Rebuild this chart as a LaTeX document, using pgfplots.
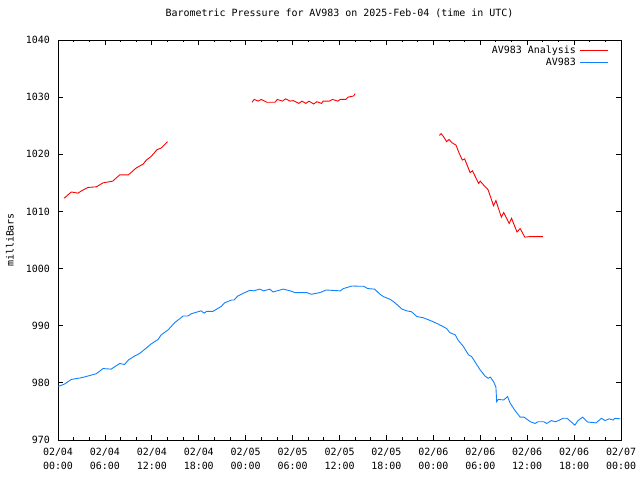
\documentclass[border=0pt]{standalone}
\usepackage{pgfplots}
\pgfplotsset{compat=1.18}
\usepackage{fontspec}
\setmainfont{DejaVu Sans Mono}
\definecolor{gpred}{RGB}{255,0,0}
\definecolor{gpblue}{RGB}{16,128,255}
\begin{document}
\begin{tikzpicture}[x=1bp,y=1bp]
\path[use as bounding box] (0,0) rectangle (640,480);
\begin{axis}[
  at={(58bp,40bp)}, anchor=south west,
  scale only axis, width=563bp, height=400bp,
  xmin=0, xmax=72, ymin=970, ymax=1040,
  font=\fontsize{10}{14}\selectfont,
  /pgf/number format/assume math mode=true,
  xtick={0,6,...,72},
  xticklabels={{02/04\\00:00},{02/04\\06:00},{02/04\\12:00},{02/04\\18:00},{02/05\\00:00},{02/05\\06:00},{02/05\\12:00},{02/05\\18:00},{02/06\\00:00},{02/06\\06:00},{02/06\\12:00},{02/06\\18:00},{02/07\\00:00}},
  minor x tick num=2,
  ytick={970,980,...,1040},
  yticklabel style={/pgf/number format/1000 sep={}, anchor=east, inner sep=0pt, xshift=-8bp},
  xticklabel style={align=center, anchor=north, inner sep=0pt, yshift=-7.5bp},
  major tick length=5bp, minor tick length=2.5bp,
  tick style={black, line width=0.8bp},
  axis line style={black, line width=0.8bp},
  title={Barometric Pressure for AV983 on 2025-Feb-04 (time in UTC)},
  title style={at={(axis description cs:0.5,1)}, anchor=center, yshift=21bp, inner sep=0pt},
  ylabel={milliBars},
  ylabel style={at={(axis description cs:-0.0853,0.5)}, anchor=center, inner sep=0pt},
  unbounded coords=jump,
  legend style={at={(axis description cs:1,1)}, anchor=north east, xshift=-12bp, yshift=-4bp, draw=none, fill=none, inner sep=0pt, row sep=0.5bp, font=\fontsize{10}{12}\selectfont, nodes={inner ysep=1.5bp, inner xsep=4bp}},
  legend cell align=right,
  legend plot pos=right,
  legend image code/.code={\draw[#1] (0bp,0bp) -- (28bp,0bp);},
]
\addplot[gpred, line width=0.9bp] coordinates {
(0.77,1012.3) (1.7,1013.4) (2.56,1013.2) (3.0,1013.6) (3.84,1014.2) (4.9,1014.3)
(5.76,1015.0) (7.0,1015.3) (7.9,1016.4) (9.0,1016.4) (10.0,1017.6) (10.9,1018.3)
(11.3,1019.0) (11.9,1019.6) (12.66,1020.8) (13.2,1021.1) (14.0,1022.2)
(14.5,nan)
(24.8,1029.1) (25.1,1029.6) (25.6,1029.3) (26.0,1029.6) (26.7,1029.1) (27.75,1029.1)
(28.05,1029.6) (28.7,1029.3) (29.1,1029.7) (29.7,1029.3) (30.1,1029.4) (30.8,1028.9)
(31.2,1029.3) (31.7,1028.9) (32.1,1029.3) (32.7,1028.8) (33.1,1029.2) (33.7,1028.9)
(33.9,1029.3) (34.7,1029.3) (35.1,1029.6) (35.8,1029.3) (36.1,1029.6) (36.8,1029.6)
(37.1,1030.0) (37.8,1030.2) (38.0,1030.6)
(38.5,nan)
(48.77,1023.3) (49.0,1023.6) (49.3,1023.1) (49.7,1022.2) (50.0,1022.6) (50.4,1022.0)
(50.9,1021.6) (51.3,1020.2) (51.7,1019.0) (52.0,1019.2) (52.7,1016.8) (53.0,1017.1)
(53.8,1014.9) (54.0,1015.3) (54.5,1014.5) (55.0,1013.8) (55.7,1011.0) (56.0,1011.9)
(56.7,1009.0) (57.0,1009.8) (57.7,1007.9) (58.0,1008.8) (58.7,1006.4) (59.1,1007.0)
(59.7,1005.5) (60.4,1005.6) (62.0,1005.6)
};
\addlegendentry{AV983 Analysis}
\addplot[gpblue, line width=0.9bp] coordinates {
(0,979.4) (0.3,979.5) (0.85,979.8) (1.7,980.6) (3.0,980.9) (3.84,981.2) (4.9,981.6)
(5.76,982.5) (6.8,982.4) (7.9,983.4) (8.5,983.2) (9.0,984.0) (9.8,984.7) (10.4,985.1)
(11.3,986.1) (11.9,986.8) (12.8,987.6) (13.2,988.4) (14.1,989.3) (14.9,990.5)
(16.0,991.7) (16.6,991.7) (17.05,992.1) (18.3,992.6) (18.7,992.2) (19.0,992.5)
(19.8,992.5) (20.9,993.4) (21.3,994.0) (22.2,994.5) (22.5,994.5) (23.0,995.2)
(23.9,995.8) (24.55,996.2) (25.0,996.1) (25.8,996.4) (26.3,996.1) (27.1,996.4)
(27.5,995.9) (28.0,996.1) (28.8,996.4) (29.7,996.1) (30.3,995.8) (31.8,995.8)
(32.4,995.5) (33.5,995.8) (34.3,996.25) (36.1,996.1) (36.5,996.5) (37.6,996.95)
(38.6,996.9) (39.1,996.9) (39.6,996.5) (40.5,996.4) (41.1,995.6) (41.6,995.1)
(42.5,994.6) (43.1,994.0) (44.0,992.9) (44.6,992.6) (45.2,992.45) (45.9,991.6)
(46.7,991.4) (47.8,990.8) (48.6,990.3) (49.3,989.8) (49.7,989.5) (50.1,988.8)
(50.8,988.4) (51.2,987.4) (51.8,986.45) (52.5,984.9) (52.9,984.6) (53.5,983.3)
(54.0,982.25) (54.6,981.2) (55.0,980.8) (55.3,981.0) (55.7,980.2) (56.0,979.3)
(56.1,976.7) (56.3,977.1) (57.0,977.0) (57.5,977.6) (57.8,976.5) (58.4,975.25)
(59.1,974.0) (59.6,974.0) (60.4,973.2) (61.0,972.9) (61.4,973.2) (62.1,973.2)
(62.5,972.9) (63.1,973.4) (63.6,973.2) (64.0,973.4) (64.6,973.8) (65.1,973.8)
(65.6,973.2) (66.1,972.6) (66.5,973.4) (67.1,974.0) (67.7,973.15) (68.8,973.0)
(69.5,973.8) (69.95,973.4) (70.5,973.7) (71.0,973.5) (71.2,973.8) (71.9,973.7)
};
\addlegendentry{AV983}
\end{axis}
\end{tikzpicture}
\end{document}
